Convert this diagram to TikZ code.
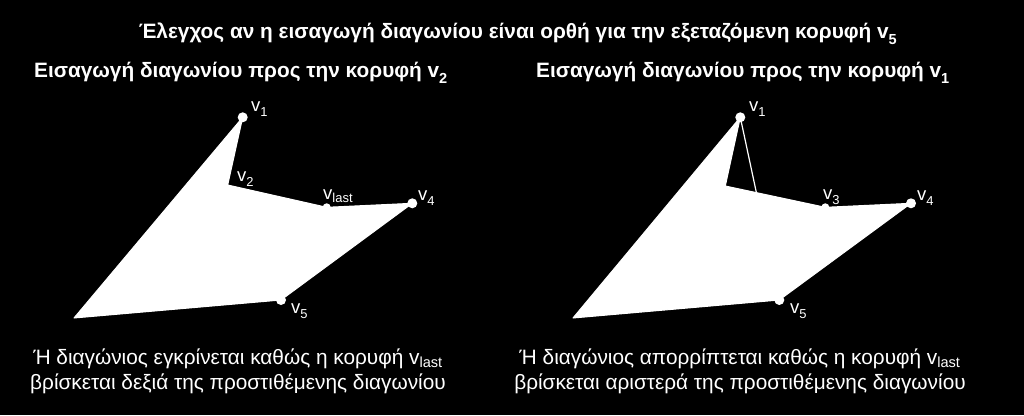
\documentclass[tikz,border=0pt]{standalone}
\usepackage{fontspec}
\setmainfont{Liberation Sans}
\newcommand{\vsub}[1]{v\raisebox{-0.14em}{\textsubscript{#1}}}
\begin{document}
\begin{tikzpicture}[x=1pt,y=-1pt,
  head/.style={white,inner sep=0pt,anchor=base,font=\bfseries\fontsize{20.8}{25}\selectfont},
  caption/.style={white,inner sep=0pt,anchor=base,align=center,font=\fontsize{20.8}{25}\selectfont},
  vlabel/.style={white,inner sep=0pt,anchor=base west,font=\fontsize{18.5}{20}\selectfont},
  poly/.style={fill=white,draw=white,line width=1pt,line join=round}]
\fill[black] (0,0) rectangle (1024,415);

\node[head] (title) at (518,38) {Έλεγχος αν η εισαγωγή διαγωνίου είναι ορθή για την εξεταζόμενη κορυφή \vsub{5}};
\node[head] (subl) at (241,77) {Εισαγωγή διαγωνίου προς την κορυφή \vsub{2}};
\node[head] (subr) at (743,77) {Εισαγωγή διαγωνίου προς την κορυφή \vsub{1}};

% left polygon: accepted diagonal
\coordinate (l0) at (74,318);
\coordinate (l1) at (242.7,117.3);
\coordinate (l2) at (227.7,185);
\coordinate (llast) at (326.7,207.3);
\coordinate (l4) at (412.3,203.3);
\coordinate (l5) at (281,300);
\draw[poly] (l0) -- (l1) -- (l2) -- (llast) -- (l4) -- (l5) -- cycle;
\foreach \p in {l1,l4,l5} \fill[white] (\p) circle[radius=5pt];
\fill[white] (llast) circle[radius=4pt];
\node[vlabel] (l1lab) at (251,111) {\vsub{1}};
\node[vlabel] (l2lab) at (237,181) {\vsub{2}};
\node[vlabel] (llastlab) at (323,199) {v\textsubscript{last}};
\node[vlabel] (l4lab) at (418,200) {\vsub{4}};
\node[vlabel] (l5lab) at (291,313) {\vsub{5}};

% right polygon: rejected diagonal
\coordinate (r0) at (573,318);
\coordinate (r1) at (740.3,117.3);
\coordinate (r2) at (725.3,186);
\coordinate (r3) at (825.3,207.3);
\coordinate (r4) at (911,203.3);
\coordinate (r5) at (779.3,300);
\draw[poly] (r0) -- (r1) -- (r2) -- (r3) -- (r4) -- (r5) -- cycle;
\draw[white,line width=1.2pt] (r1) -- (r5);
\foreach \p in {r1,r4,r5} \fill[white] (\p) circle[radius=5pt];
\fill[white] (r3) circle[radius=4pt];
\node[vlabel] (r1lab) at (749,111) {\vsub{1}};
\node[vlabel] (r3lab) at (823,199) {\vsub{3}};
\node[vlabel] (r4lab) at (917,200) {\vsub{4}};
\node[vlabel] (r5lab) at (790,313) {\vsub{5}};

\node[caption] (capl) at (238,389) {Ή διαγώνιος εγκρίνεται καθώς η κορυφή v\textsubscript{last}\\βρίσκεται δεξιά της προστιθέμενης διαγωνίου};
\node[caption] (capr) at (740,389) {Ή διαγώνιος απορρίπτεται καθώς η κορυφή v\textsubscript{last}\\βρίσκεται αριστερά της προστιθέμενης διαγωνίου};
\end{tikzpicture}
\end{document}
